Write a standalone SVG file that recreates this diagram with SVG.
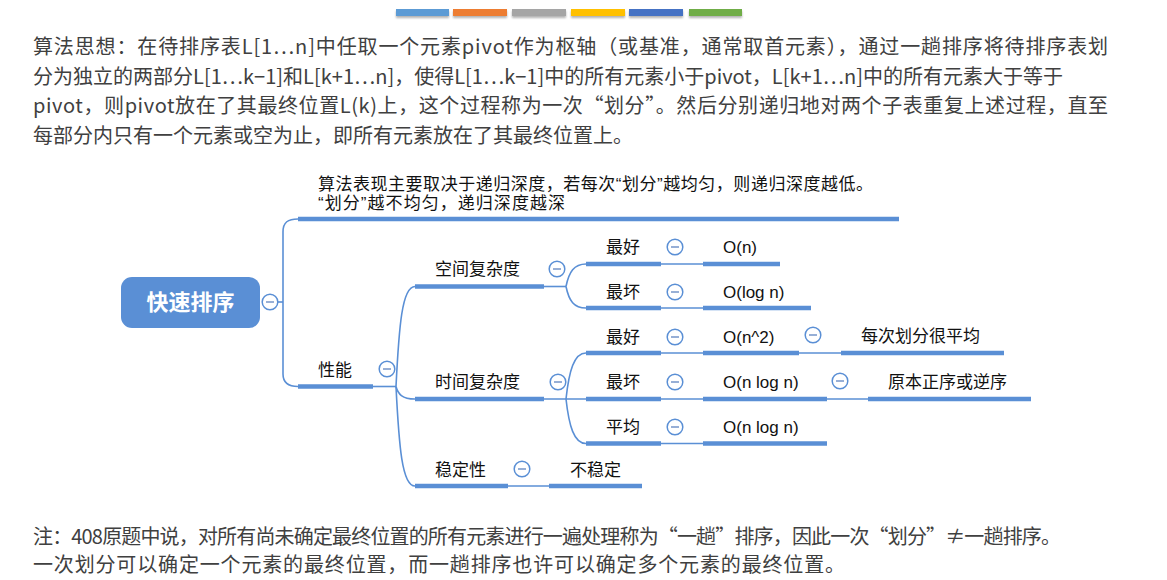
<svg xmlns="http://www.w3.org/2000/svg" width="1167" height="580" viewBox="0 0 1167 580">
<defs>
<filter id="sh" x="-10%" y="-50%" width="120%" height="250%">
<feDropShadow dx="0" dy="2" stdDeviation="1.2" flood-color="#000" flood-opacity="0.3"/>
</filter>
<g id="minus">
<circle cx="0" cy="0" r="7.8" fill="#fff" stroke="#5a8fd5" stroke-width="1.5"/>
<line x1="-4" y1="0" x2="4" y2="0" stroke="#7e9ccc" stroke-width="1.6"/>
</g>
</defs>
<style>
.p{font-family:"Noto Sans CJK SC","Noto Sans",sans-serif;font-size:20px;fill:#404040}
.t{font-family:"Liberation Sans","Noto Sans CJK SC",sans-serif;font-size:17px;fill:#111}
.root{font-family:"Noto Sans CJK SC",sans-serif;font-size:22px;font-weight:bold;fill:#fff}
.ul{stroke:#5a8fd5;stroke-width:4.5;fill:none}
.ln{stroke:#5a8fd5;stroke-width:1.6;fill:none}
</style>
<rect width="1167" height="580" fill="#fff"/>
<g id="colorbars" filter="url(#sh)">
<rect x="396" y="9" width="53" height="7" fill="#5b9bd5"/>
<rect x="453" y="9" width="54" height="7" fill="#ed7d31"/>
<rect x="512" y="9" width="54" height="7" fill="#a5a5a5"/>
<rect x="571" y="9" width="54" height="7" fill="#ffc000"/>
<rect x="629" y="9" width="54" height="7" fill="#4472c4"/>
<rect x="689" y="9" width="53" height="7" fill="#70ad47"/>
</g>
<g id="paragraph">
<text class="p" x="33" y="54" textLength="1075" lengthAdjust="spacing">算法思想：在待排序表L[1…n]中任取一个元素pivot作为枢轴（或基准，通常取首元素），通过一趟排序将待排序表划</text>
<text class="p" x="33" y="83.5" textLength="1030" lengthAdjust="spacing">分为独立的两部分L[1…k−1]和L[k+1…n]，使得L[1…k−1]中的所有元素小于pivot，L[k+1…n]中的所有元素大于等于</text>
<text class="p" x="33" y="113" textLength="1075" lengthAdjust="spacing">pivot，则pivot放在了其最终位置L(k)上，这个过程称为一次“划分”。然后分别递归地对两个子表重复上述过程，直至</text>
<text class="p" x="33" y="142.5">每部分内只有一个元素或空为止，即所有元素放在了其最终位置上。</text>
</g>
<g id="connectors">
<path class="ln" d="M278,302 L283,302"/>
<path class="ln" d="M298,219 C288,219 283,222 283,232 L283,374 C283,383 288,386.5 298,386.5"/>
<path class="ln" d="M373,386.5 L396,386.5"/>
<path class="ln" d="M396,386.5 C399,326.5 402,286.5 415,286.5"/>
<path class="ln" d="M396,386.5 C398,394 402,399 415,399"/>
<path class="ln" d="M396,386.5 C399,446 402,486 415,486"/>
<path class="ln" d="M544,286.5 L566,286.5"/>
<path class="ln" d="M566,286.5 C569,272 574,264 586,264"/>
<path class="ln" d="M566,286.5 C569,301 574,308 586,308"/>
<path class="ln" d="M544,399 L586,399"/>
<path class="ln" d="M566,399 C569,371 574,353 586,353"/>
<path class="ln" d="M566,399 C569,426 574,443.5 586,443.5"/>
<path class="ln" d="M508,486 L549,486"/>
<path class="ln" d="M661,264 L703,264"/>
<path class="ln" d="M661,308 L703,308"/>
<path class="ln" d="M661,353 L703,353"/>
<path class="ln" d="M661,399 L703,399"/>
<path class="ln" d="M661,443.5 L703,443.5"/>
<path class="ln" d="M799,353 L841,353"/>
<path class="ln" d="M827,399 L868,399"/>
</g>
<g id="root">
<rect x="121" y="277" width="139" height="51" rx="11" fill="#5a8fd5"/>
<text class="root" x="190.5" y="310" text-anchor="middle">快速排序</text>
<use href="#minus" x="270" y="302"/>
</g>
<g id="note">
<text class="t" x="318" y="190" textLength="555" lengthAdjust="spacing">算法表现主要取决于递归深度，若每次“划分”越均匀，则递归深度越低。</text>
<text class="t" x="318" y="209" textLength="247" lengthAdjust="spacing">“划分”越不均匀，递归深度越深</text>
<line class="ul" x1="298" y1="219" x2="899" y2="219"/>
</g>
<g id="perf">
<text class="t" x="318" y="376">性能</text>
<line class="ul" x1="298" y1="386.5" x2="373" y2="386.5"/>
<use href="#minus" x="387" y="369"/>
</g>
<g id="space">
<text class="t" x="435" y="275">空间复杂度</text>
<line class="ul" x1="415" y1="286.5" x2="544" y2="286.5"/>
<use href="#minus" x="557" y="269"/>
</g>
<g id="space-best">
<text class="t" x="606" y="253">最好</text>
<line class="ul" x1="586" y1="264" x2="661" y2="264"/>
<use href="#minus" x="675" y="247"/>
</g>
<g id="space-best-val">
<text class="t" x="723" y="253">O(n)</text>
<line class="ul" x1="703" y1="264" x2="780" y2="264"/>
</g>
<g id="space-worst">
<text class="t" x="606" y="298">最坏</text>
<line class="ul" x1="586" y1="308" x2="661" y2="308"/>
<use href="#minus" x="675" y="292"/>
</g>
<g id="space-worst-val">
<text class="t" x="723" y="298">O(log n)</text>
<line class="ul" x1="703" y1="308" x2="811" y2="308"/>
</g>
<g id="time">
<text class="t" x="435" y="388">时间复杂度</text>
<line class="ul" x1="415" y1="399" x2="544" y2="399"/>
<use href="#minus" x="558" y="382"/>
</g>
<g id="time-best">
<text class="t" x="606" y="343">最好</text>
<line class="ul" x1="586" y1="353" x2="661" y2="353"/>
<use href="#minus" x="675" y="337"/>
</g>
<g id="time-best-val">
<text class="t" x="723" y="343">O(n^2)</text>
<line class="ul" x1="703" y1="353" x2="799" y2="353"/>
<use href="#minus" x="813" y="335"/>
</g>
<g id="time-best-note">
<text class="t" x="861" y="342">每次划分很平均</text>
<line class="ul" x1="841" y1="353" x2="1004" y2="353"/>
</g>
<g id="time-worst">
<text class="t" x="606" y="388">最坏</text>
<line class="ul" x1="586" y1="399" x2="661" y2="399"/>
<use href="#minus" x="675" y="382"/>
</g>
<g id="time-worst-val">
<text class="t" x="723" y="388">O(n log n)</text>
<line class="ul" x1="703" y1="399" x2="827" y2="399"/>
<use href="#minus" x="840" y="381"/>
</g>
<g id="time-worst-note">
<text class="t" x="888" y="388">原本正序或逆序</text>
<line class="ul" x1="868" y1="399" x2="1031" y2="399"/>
</g>
<g id="time-avg">
<text class="t" x="606" y="433">平均</text>
<line class="ul" x1="586" y1="443.5" x2="661" y2="443.5"/>
<use href="#minus" x="675" y="427"/>
</g>
<g id="time-avg-val">
<text class="t" x="723" y="433">O(n log n)</text>
<line class="ul" x1="703" y1="443.5" x2="827" y2="443.5"/>
</g>
<g id="stable">
<text class="t" x="435" y="476">稳定性</text>
<line class="ul" x1="415" y1="486" x2="508" y2="486"/>
<use href="#minus" x="522" y="469"/>
</g>
<g id="stable-val">
<text class="t" x="570" y="476">不稳定</text>
<line class="ul" x1="549" y1="486" x2="642" y2="486"/>
</g>
<g id="footer">
<text class="p" x="33" y="544" textLength="1028" lengthAdjust="spacing">注：408原题中说，对所有尚未确定最终位置的所有元素进行一遍处理称为“一趟”排序，因此一次“划分”≠一趟排序。</text>
<text class="p" x="33" y="572" textLength="812" lengthAdjust="spacing">一次划分可以确定一个元素的最终位置，而一趟排序也许可以确定多个元素的最终位置。</text>
</g>
</svg>
